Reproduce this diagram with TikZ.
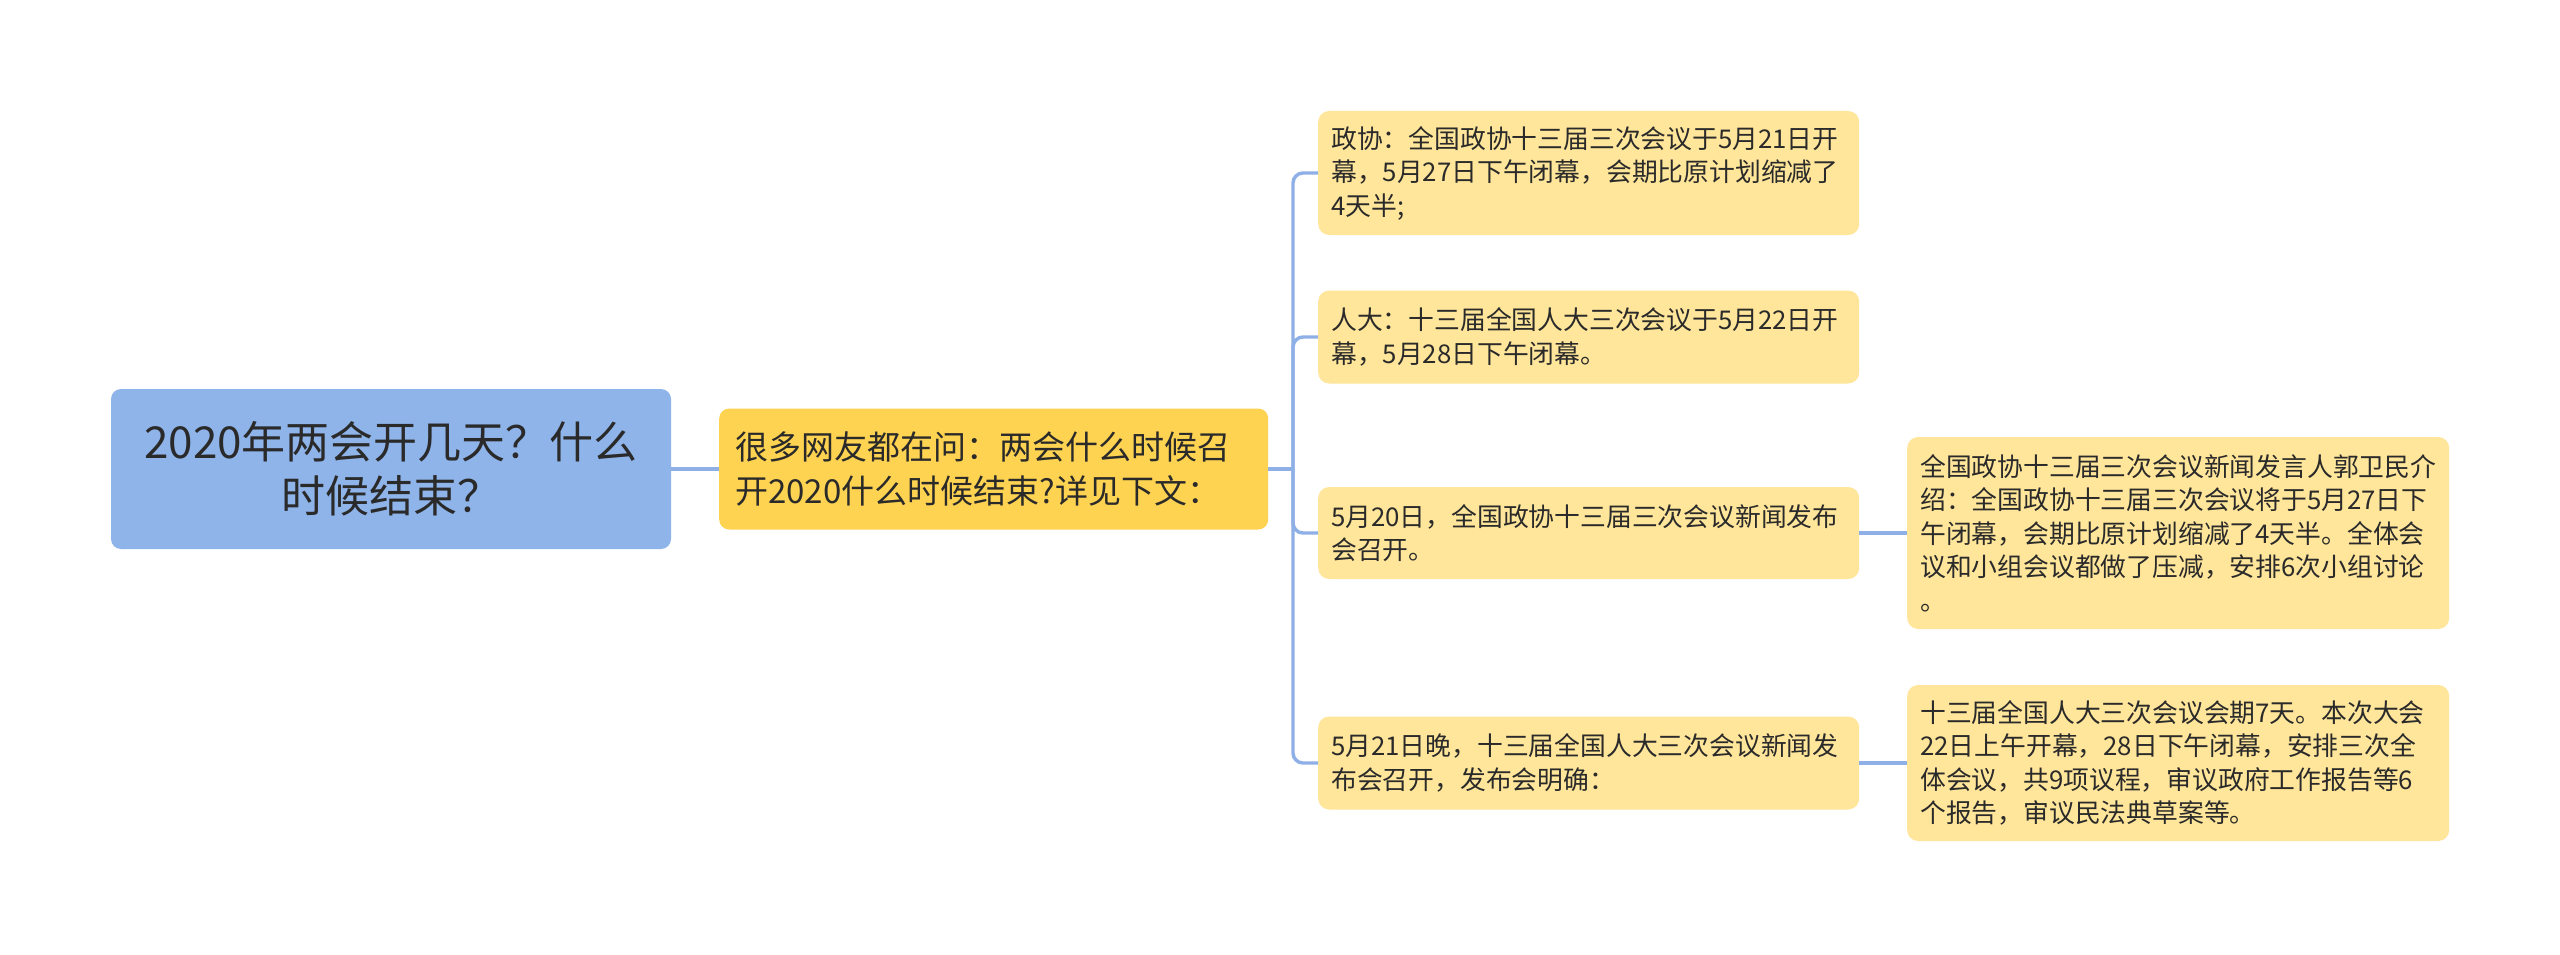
\documentclass[tikz,border=0pt]{standalone}
\usepackage{fontspec}
\setmainfont{Noto Sans CJK SC}
\definecolor{rootc}{HTML}{8FB4EA}
\definecolor{midc}{HTML}{FED351}
\definecolor{leafc}{HTML}{FFE69B}
\definecolor{linec}{HTML}{8FB0E6}
\definecolor{txt}{HTML}{2A2A2A}
\begin{document}
\begin{tikzpicture}[x=1pt,y=-1pt,
  rootbox/.style={rectangle, rounded corners=10pt, fill=rootc, text=txt, align=center,
    minimum width=560pt, minimum height=160pt, inner sep=0pt,
    font=\fontsize{44}{54}\selectfont},
  midbox/.style={rectangle, rounded corners=10pt, fill=midc, text=txt, align=left,
    text width=517pt, inner xsep=16pt, inner ysep=0pt, minimum height=121pt, anchor=west,
    font=\fontsize{33}{44}\selectfont},
  leafbox/.style={rectangle, rounded corners=11pt, fill=leafc, text=txt, align=left,
    inner xsep=13pt, inner ysep=0pt, anchor=west,
    font=\fontsize{25.8}{33.5}\selectfont},
  conn/.style={draw=linec, line width=3.4pt},
  branch/.style={conn, rounded corners=10pt}]
\useasboundingbox (0,0) rectangle (2560,955);
\fill[white] (0,0) rectangle (2560,955);

\node[rootbox] (root) at (391,469) {2020年两会开几天？什么\\时候结束？};
\node[midbox] (mid) at (719,469) {很多网友都在问：两会什么时候召\\开2020什么时候结束?详见下文：};

\node[leafbox, text width=515pt, minimum height=124pt] (c1) at (1318,173)
  {政协：全国政协十三届三次会议于5月21日开\\幕，5月27日下午闭幕，会期比原计划缩减了\\4天半;};
\node[leafbox, text width=515pt, minimum height=93pt] (c2) at (1318,337)
  {人大：十三届全国人大三次会议于5月22日开\\幕，5月28日下午闭幕。};
\node[leafbox, text width=515pt, minimum height=92pt] (c3) at (1318,533)
  {5月20日，全国政协十三届三次会议新闻发布\\会召开。};
\node[leafbox, text width=515pt, minimum height=93pt] (c4) at (1318,763)
  {5月21日晚，十三届全国人大三次会议新闻发\\布会召开，发布会明确：};

\node[leafbox, text width=516pt, minimum height=192pt] (g1) at (1907,533)
  {全国政协十三届三次会议新闻发言人郭卫民介\\绍：全国政协十三届三次会议将于5月27日下\\午闭幕，会期比原计划缩减了4天半。全体会\\议和小组会议都做了压减，安排6次小组讨论\\。};
\node[leafbox, text width=516pt, minimum height=156pt] (g2) at (1907,763)
  {十三届全国人大三次会议会期7天。本次大会\\22日上午开幕，28日下午闭幕，安排三次全\\体会议，共9项议程，审议政府工作报告等6\\个报告，审议民法典草案等。};

\coordinate (j) at (1293,469);
\draw[conn] (root.east) -- (mid.west);
\draw[conn] (mid.east) -- (j);
\draw[branch] (j) |- (c1.west);
\draw[branch] (j) |- (c2.west);
\draw[branch] (j) |- (c3.west);
\draw[branch] (j) |- (c4.west);
\draw[conn] (c3.east) -- (g1.west);
\draw[conn] (c4.east) -- (g2.west);
\end{tikzpicture}
\end{document}
